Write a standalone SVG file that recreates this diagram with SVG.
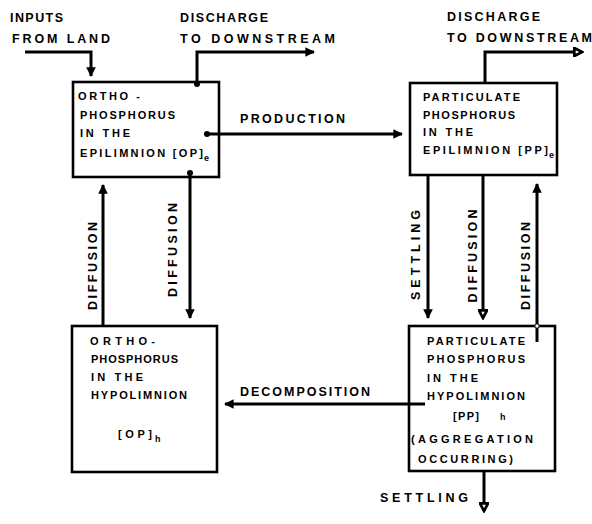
<svg xmlns="http://www.w3.org/2000/svg" width="592" height="524" viewBox="0 0 592 524">
<style>
text{font-family:"Liberation Sans",Arial,sans-serif;font-weight:bold;fill:#000}
.lbl{font-size:12.5px}
.bx{font-size:11px}
.sub{font-size:9px}
.box{fill:#fff;stroke:#000;stroke-width:2.6}
.ln{fill:none;stroke:#000;stroke-width:3}
.dot{fill:#000}
</style>
<defs>
<marker id="af" viewBox="0 0 10 10" refX="9" refY="5" markerWidth="3.2" markerHeight="3.2" orient="auto" markerUnits="strokeWidth">
<path d="M0 0 L10 5 L0 10 Z" fill="#000"/>
</marker>
<marker id="ah" viewBox="0 0 12 12" refX="10" refY="6" markerWidth="3.6" markerHeight="3.6" orient="auto" markerUnits="strokeWidth">
<path d="M1.5 1.5 L10 6 L1.5 10.5 Z" fill="#fff" stroke="#000" stroke-width="3"/>
</marker>
</defs>

<g id="labels">
<text class="lbl" x="10" y="22" textLength="53" lengthAdjust="spacing">INPUTS</text>
<text class="lbl" x="12" y="43" textLength="98" lengthAdjust="spacing">FROM LAND</text>
<text class="lbl" x="180" y="22" textLength="88" lengthAdjust="spacing">DISCHARGE</text>
<text class="lbl" x="180" y="43" textLength="155" lengthAdjust="spacing">TO DOWNSTREAM</text>
<text class="lbl" x="447" y="21" textLength="93" lengthAdjust="spacing">DISCHARGE</text>
<text class="lbl" x="447" y="42" textLength="145" lengthAdjust="spacing">TO DOWNSTREAM</text>
</g>

<g id="op-epi">
<rect class="box" x="73" y="82" width="146" height="95"/>
<text class="bx" x="78" y="100" textLength="62" lengthAdjust="spacing">ORTHO -</text>
<text class="bx" x="80" y="119" textLength="95" lengthAdjust="spacing">PHOSPHORUS</text>
<text class="bx" x="80" y="137" textLength="50" lengthAdjust="spacing">IN THE</text>
<text class="bx" x="80" y="157" textLength="123" lengthAdjust="spacing">EPILIMNION [OP]</text>
<text class="sub" x="204" y="161">e</text>
</g>

<g id="pp-epi">
<rect class="box" x="410" y="83" width="147" height="92"/>
<text class="bx" x="423" y="101" textLength="97" lengthAdjust="spacing">PARTICULATE</text>
<text class="bx" x="423" y="119" textLength="92" lengthAdjust="spacing">PHOSPHORUS</text>
<text class="bx" x="423" y="136" textLength="50" lengthAdjust="spacing">IN THE</text>
<text class="bx" x="423" y="154" textLength="125" lengthAdjust="spacing">EPILIMNION [PP]</text>
<text class="sub" x="549" y="158">e</text>
</g>

<g id="op-hypo">
<rect class="box" x="72" y="326" width="145" height="146"/>
<text class="bx" x="90" y="345" textLength="65" lengthAdjust="spacing">ORTHO-</text>
<text class="bx" x="91" y="363" textLength="87" lengthAdjust="spacing">PHOSPHORUS</text>
<text class="bx" x="91" y="381" textLength="52" lengthAdjust="spacing">IN THE</text>
<text class="bx" x="91" y="399" textLength="96" lengthAdjust="spacing">HYPOLIMNION</text>
<text class="bx" x="118" y="438" textLength="34" lengthAdjust="spacing">[OP]</text>
<text class="sub" x="155" y="442">h</text>
</g>

<g id="pp-hypo">
<rect class="box" x="409" y="326" width="146" height="145"/>
<text class="bx" x="427" y="345" textLength="98" lengthAdjust="spacing">PARTICULATE</text>
<text class="bx" x="427" y="363" textLength="98" lengthAdjust="spacing">PHOSPHORUS</text>
<text class="bx" x="427" y="382" textLength="51" lengthAdjust="spacing">IN THE</text>
<text class="bx" x="427" y="400" textLength="98" lengthAdjust="spacing">HYPOLIMNION</text>
<text class="bx" x="453" y="420" textLength="26" lengthAdjust="spacing">[PP]</text>
<text class="sub" x="500" y="420">h</text>
<text class="bx" x="411" y="443" textLength="122" lengthAdjust="spacing">(AGGREGATION</text>
<text class="bx" x="418" y="463" textLength="95" lengthAdjust="spacing">OCCURRING)</text>
</g>

<g id="connectors">
<path class="ln" d="M25 52 H91 V76" marker-end="url(#af)"/>
<path class="ln" d="M197 83 V52 H314" marker-end="url(#af)"/>
<circle class="dot" cx="197" cy="84" r="3"/>
<path class="ln" d="M485 83 V52 H582" marker-end="url(#ah)"/>
<path class="ln" d="M207 134 H402" marker-end="url(#af)"/>
<circle class="dot" cx="207" cy="134" r="3"/>
<path class="ln" d="M103 326 V185" marker-end="url(#af)"/>
<path class="ln" d="M190 173 V318" marker-end="url(#af)"/>
<circle class="dot" cx="190" cy="173" r="3"/>
<path class="ln" d="M428 175 V318" marker-end="url(#af)"/>
<path class="ln" d="M483 175 V318" marker-end="url(#ah)"/>
<path class="ln" d="M537 342 V184" marker-end="url(#af)"/>
<circle cx="537" cy="326" r="2.2" fill="#fff" stroke="#000" stroke-width="1"/>
<path class="ln" d="M425 404 H225" marker-end="url(#af)"/>
<path class="ln" d="M484 471 V511" marker-end="url(#ah)"/>
<text class="lbl" x="240" y="123" textLength="105" lengthAdjust="spacing">PRODUCTION</text>
<text class="lbl" x="240" y="396" textLength="130" lengthAdjust="spacing">DECOMPOSITION</text>
<text class="lbl" x="380" y="502" textLength="88" lengthAdjust="spacing">SETTLING</text>
<text class="lbl" text-anchor="middle" transform="translate(97 266) rotate(-90)" textLength="88" lengthAdjust="spacing">DIFFUSION</text>
<text class="lbl" text-anchor="middle" transform="translate(177 250) rotate(-90)" textLength="94" lengthAdjust="spacing">DIFFUSION</text>
<text class="lbl" text-anchor="middle" transform="translate(420 255) rotate(-90)" textLength="90" lengthAdjust="spacing">SETTLING</text>
<text class="lbl" text-anchor="middle" transform="translate(477 256) rotate(-90)" textLength="93" lengthAdjust="spacing">DIFFUSION</text>
<text class="lbl" text-anchor="middle" transform="translate(530 266) rotate(-90)" textLength="88" lengthAdjust="spacing">DIFFUSION</text>
</g>
</svg>
